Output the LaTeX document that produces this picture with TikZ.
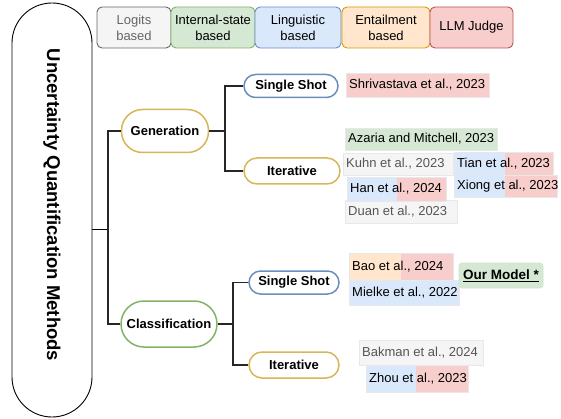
\documentclass[tikz,border=0pt]{standalone}
\usepackage{fontspec}
\setmainfont{Liberation Sans}
\definecolor{gfill}{HTML}{F5F5F5}\definecolor{gline}{HTML}{666666}
\definecolor{grfill}{HTML}{D5E8D4}\definecolor{grline}{HTML}{82B366}
\definecolor{bfill}{HTML}{DAE8FC}\definecolor{bline}{HTML}{6C8EBF}
\definecolor{ofill}{HTML}{FFE6CC}\definecolor{oline}{HTML}{D79B00}
\definecolor{pfill}{HTML}{F8CECC}\definecolor{pline}{HTML}{B85450}
\definecolor{yline}{HTML}{D6B656}
\definecolor{reftxtgray}{HTML}{555555}
\tikzset{
  legendbox/.style={draw, line width=0.9pt, rounded corners=5pt, align=center, inner sep=0pt,
    minimum height=41pt, font=\fontsize{13}{16}\selectfont},
  tnode/.style={draw, line width=1.5pt, fill=white, inner sep=0pt,
    font=\fontsize{13}{15}\selectfont\bfseries},
  conn/.style={line width=1.5pt, draw=black!85},
  reftext/.style={inner xsep=3pt, inner ysep=0pt, anchor=west, font=\fontsize{13}{15}\selectfont},
  refedge/.style={draw=black!9, line width=0.5pt}
}
\newcommand\refplain[7]{%
  \fill[#6] (#2,#3) rectangle (#4,#5);
  \draw[refedge] (#2,#3) rectangle (#4,#5);
  \node[reftext] (#1) at (#2,{(#3+#5)/2}) {#7};}
\newcommand\refsplit[8]{%
  \fill[#7] (#2,#3) rectangle (#6,#5);
  \fill[pfill] (#6,#3) rectangle (#4,#5);
  \draw[refedge] (#2,#3) rectangle (#4,#5);
  \node[reftext] (#1) at (#2,{(#3+#5)/2}) {#8};}
\begin{document}
\begin{tikzpicture}[x=1pt,y=-1pt]
\useasboundingbox (0,0) rectangle (561,419);
% legend
\node[legendbox, fill=gfill, draw=gline, text=gline, minimum width=74pt] (lg1) at (134,27.5) {Logits\\based};
\node[legendbox, fill=grfill, draw=grline, minimum width=84pt] (lg2) at (213,27.5) {Internal-state\\based};
\node[legendbox, fill=bfill, draw=bline, minimum width=86pt] (lg3) at (298,27.5) {Linguistic\\based};
\node[legendbox, fill=ofill, draw=oline, minimum width=88pt] (lg4) at (386,27.5) {Entailment\\based};
\node[legendbox, fill=pfill, draw=pline, minimum width=83pt] (lg5) at (471.5,27.5) {LLM Judge};
% root
\node[draw, line width=0.9pt, rounded corners=40pt, minimum width=414pt, minimum height=80pt,
  rotate=-90, inner sep=0pt, font=\fontsize{18.5}{20}\selectfont\bfseries] (root) at (52,210)
  {\raisebox{0pt}{Uncertainty Quantification Methods}\hspace*{10pt}};
% tree nodes
\node[tnode, draw=yline, rounded corners=21pt, minimum width=87pt, minimum height=43pt] (gen) at (165,131) {Generation};
\node[tnode, draw=grline, rounded corners=23pt, minimum width=96pt, minimum height=46pt] (cls) at (169,324) {Classification};
\node[tnode, draw=bline, rounded corners=11.5pt, minimum width=94pt, minimum height=23pt] (gss) at (291,86) {Single Shot};
\node[tnode, draw=yline, rounded corners=13pt, minimum width=96pt, minimum height=26pt] (git) at (292,171) {Iterative};
\node[tnode, draw=bline, rounded corners=11.5pt, minimum width=90pt, minimum height=23pt] (css) at (294,282.5) {Single Shot};
\node[tnode, draw=yline, rounded corners=13pt, minimum width=90pt, minimum height=26pt] (cit) at (294,365) {Iterative};
% connectors
\coordinate (tr) at (108,229);
\coordinate (gb) at (225,131);
\coordinate (cb) at (233,324);
\draw[line width=0.9pt] (root.north |- tr) -- (tr);
\draw[conn] (gen.west) -| (tr) |- (cls.west);
\draw[conn] (gen.east) -- (gb);
\draw[conn] (gss.west) -| (gb) |- (git.west);
\draw[conn] (cls.east) -- (cb);
\draw[conn] (css.west) -| (cb) |- (cit.west);
% references
\refplain{shri}{346}{73}{489}{97}{pfill}{Shrivastava et al., 2023}
\refplain{azaria}{345}{128}{497}{150}{grfill}{Azaria and Mitchell, 2023}
\refplain{kuhn}{343}{153}{453}{175}{gfill}{\textcolor{reftxtgray}{Kuhn et al., 2023}}
\refplain{duan}{345}{200}{457}{223}{gfill}{\textcolor{reftxtgray}{Duan et al., 2023}}
\refsplit{han}{347}{177}{446}{201}{397}{bfill}{Han et al., 2024}
\refsplit{tian}{454}{152}{553}{175}{505}{bfill}{Tian et al., 2023}
\refsplit{xiong}{454}{175}{557}{197}{505}{bfill}{Xiong et al., 2023}
\refsplit{bao}{349}{253}{453}{280}{401}{ofill}{Bao et al., 2024}
\refplain{mielke}{349}{280}{459}{305}{bfill}{Mielke et al., 2022}
\refplain{bakman}{359}{340}{483}{365}{gfill}{\textcolor{reftxtgray}{Bakman et al., 2024}}
\refsplit{zhou}{366}{365}{468}{392}{416}{bfill}{Zhou et al., 2023}
\node[draw=grline!35, line width=0.6pt, fill=grfill, rounded corners=3pt, minimum width=84pt, minimum height=25pt,
  inner sep=0pt, font=\fontsize{13.5}{15}\selectfont\bfseries] (ours) at (501,275.5) {\underline{Our Model *}};
\end{tikzpicture}
\end{document}
